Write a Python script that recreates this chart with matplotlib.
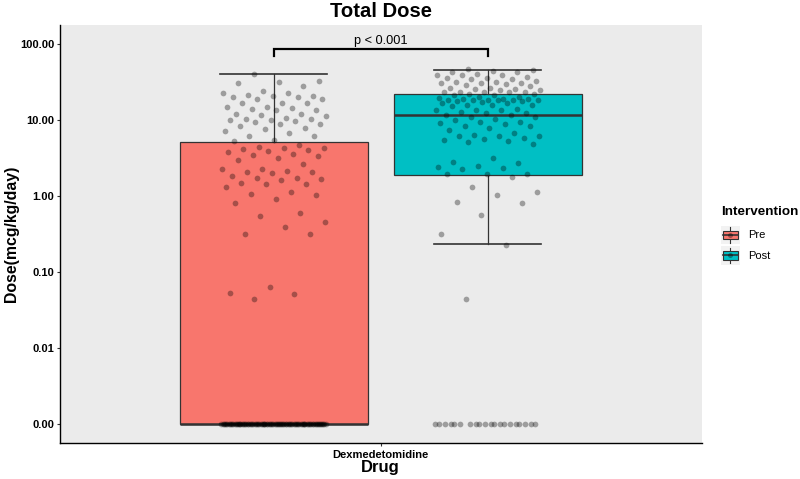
import matplotlib
matplotlib.use("Agg")
import matplotlib.pyplot as plt
from matplotlib.legend_handler import HandlerBase
from matplotlib.patches import Rectangle, Patch
from matplotlib.lines import Line2D
from matplotlib.ticker import FixedLocator, FuncFormatter, NullLocator
import numpy as np

plt.rcParams["font.family"] = ["Liberation Sans", "DejaVu Sans"]

# Data
drug = "Dexmedetomidine"
groups = ["Pre", "Post"]
colors = ["#F8766D", "#00BFC4"]

# box statistics, dose in mcg/kg/day
q1 = [0.0, 1.90]
median = [0.0, 11.7]
q3 = [5.16, 21.9]
whisker_low = [0.0, 0.232]
whisker_high = [40.0, 46.5]

# individual patients (non-zero doses) + number of zero doses
pre_nonzero = [40.3, 32.8, 31.6, 30.6, 28.0, 24.3, 22.8, 22.8, 21.7, 21.0, 20.7, 20.2,
               20.0, 19.2, 19.2, 17.0, 16.7, 16.7, 14.8, 14.8, 14.4, 14.1, 13.8, 13.5,
               12.2, 12.0, 11.8, 11.5, 10.8, 10.4, 10.4, 10.2, 10.0, 9.8, 9.5, 9.0, 8.9,
               8.3, 7.9, 7.7, 7.1, 6.8, 6.2, 6.1, 5.5, 5.3,
               4.75, 4.44, 4.31, 4.27, 4.14, 4.09, 3.89, 3.85, 3.62, 3.45, 3.35, 3.21,
               2.96, 2.68, 2.28, 2.25, 2.12, 2.10, 2.08, 2.00, 1.82, 1.73, 1.73, 1.70,
               1.61, 1.47, 1.44, 1.44, 1.32, 1.13, 1.06, 1.03, 0.92, 0.81, 0.59, 0.55,
               0.46, 0.39, 0.32, 0.32, 0.063, 0.053, 0.052, 0.044]
post_nonzero = [46.9, 45.9, 44.9, 42.8, 42.8, 40.3, 39.7, 39.4, 39.1, 37.4, 36.3, 36.3,
                35.2, 34.9, 32.6, 31.6, 31.6, 31.2, 31.2, 30.9, 29.7, 29.1, 28.0, 26.8,
                26.6, 25.8, 25.5, 25.0, 25.0, 23.7, 23.3, 23.3, 23.3, 23.3,
                22.1, 21.9, 21.7, 21.5, 20.4, 20.4, 19.6, 19.2, 19.0, 19.0, 18.6, 18.6,
                18.5, 18.5, 18.3, 18.3, 18.1, 17.8, 17.2, 16.9, 16.7, 15.9, 15.7, 15.7,
                15.4, 14.1, 13.8, 13.6, 13.5, 12.8, 12.6, 12.4, 11.8, 11.7, 11.0, 10.9,
                10.5, 10.1, 9.5, 9.4, 9.1, 8.8, 8.5, 8.3, 7.9, 7.4, 6.8, 6.4, 6.2, 6.1,
                6.1, 5.8, 5.7, 5.4, 5.3, 5.2, 4.8, 3.2, 2.79, 2.73, 2.49, 2.40, 2.32,
                2.25, 1.97, 1.95, 1.94,
                1.79, 1.31, 1.13, 1.03, 0.83, 0.82, 0.57, 0.32, 0.23, 0.044]
zero_counts = [94, 20]

y_ticks = [0.001, 0.01, 0.1, 1, 10, 100]
zero_floor = 0.001          # zero doses are drawn on the "0.00" line
p_label = "p < 0.001"
bracket_top = 86
bracket_foot = 70


def floor0(v):
    v = np.asarray(v, dtype=float)
    return np.where(v <= 0, zero_floor, v)


fig = plt.figure(figsize=(8, 4.79), dpi=100)
ax = fig.add_axes([59.5 / 800, 36 / 479, 642.5 / 800, 418 / 479], facecolor="#EBEBEB")

positions = [1 - 0.1875, 1 + 0.1875]

stats = []
for i, g in enumerate(groups):
    stats.append(dict(label=g, med=floor0(median[i]), q1=floor0(q1[i]), q3=floor0(q3[i]),
                      whislo=floor0(whisker_low[i]), whishi=floor0(whisker_high[i]), fliers=[]))

bp = ax.bxp(stats, positions=positions, widths=0.329, capwidths=0.1875,
            patch_artist=True, showfliers=False, manage_ticks=False,
            boxprops=dict(edgecolor="#333333", linewidth=0.9),
            medianprops=dict(color="#333333", linewidth=1.8),
            whiskerprops=dict(color="#333333", linewidth=0.9),
            capprops=dict(color="#333333", linewidth=1.2))
for patch, c in zip(bp["boxes"], colors):
    patch.set_facecolor(c)

# jittered points (width jitter only)
all_points = [pre_nonzero + [0] * zero_counts[0], post_nonzero + [0] * zero_counts[1]]
for pos, pts in zip(positions, all_points):
    n = len(pts)
    jit = ((np.arange(n) * 0.6180339887 + 0.31) % 1 - 0.5) * 2 * 0.092
    ax.scatter(pos + jit, floor0(pts), s=17, color="black", alpha=0.33,
               linewidths=0, zorder=4)

# significance bracket
ax.plot([positions[0], positions[0], positions[1], positions[1]],
        [bracket_foot, bracket_top, bracket_top, bracket_foot],
        color="black", linewidth=1.6, solid_joinstyle="miter", zorder=5)
ax.text(np.mean(positions), 101, p_label, ha="center", va="baseline", fontsize=9.2)

# scales
ax.set_yscale("log")
ax.set_ylim(10 ** -3.253, 10 ** 2.254)
ax.set_xlim(1 - 0.563, 1 + 0.563)
ax.yaxis.set_major_locator(FixedLocator(y_ticks))
ax.yaxis.set_major_formatter(FuncFormatter(lambda v, p: f"{v:.2f}"))
ax.yaxis.set_minor_locator(NullLocator())
ax.set_xticks([1])
ax.set_xticklabels([drug], fontweight="bold", fontsize=8)
for lab in ax.get_yticklabels():
    lab.set_fontweight("bold")
ax.tick_params(axis="both", labelsize=8, length=2.4, width=0.8, color="#333333",
               labelcolor="black", pad=1.5)
ax.tick_params(axis="x", pad=2.5)

# spines
ax.spines["top"].set_visible(False)
ax.spines["right"].set_visible(False)
ax.spines["left"].set_linewidth(1.0)
ax.spines["bottom"].set_linewidth(1.0)

# labels
ax.set_title("Total Dose", fontsize=14.6, fontweight="bold", pad=5.5)
ax.set_xlabel("Drug", fontsize=12, fontweight="bold")
ax.xaxis.set_label_coords(0.5, -0.040)
ax.set_ylabel("Dose(mcg/kg/day)", fontsize=11.4, fontweight="bold")
ax.yaxis.set_label_coords(-0.063, 0.5)


# legend with little boxplot keys
class BoxKey(HandlerBase):
    def create_artists(self, legend, orig_handle, xdescent, ydescent, width, height,
                       fontsize, trans):
        x0, y0 = -xdescent, -ydescent
        cx = x0 + width / 2
        bg = Rectangle((x0, y0), width, height, facecolor="#F2F2F2", edgecolor="none",
                       transform=trans)
        whisk = Line2D([cx, cx], [y0 + 1, y0 + height - 1], color="#333333", lw=0.8,
                       transform=trans)
        box = Rectangle((x0 + width * 0.1, y0 + height * 0.27), width * 0.8, height * 0.46,
                        facecolor=orig_handle.get_facecolor(), edgecolor="#333333",
                        lw=0.8, transform=trans)
        med = Line2D([x0 + width * 0.1, x0 + width * 0.9], [y0 + height / 2] * 2,
                     color="#333333", lw=1.2, transform=trans)
        dot = Line2D([cx], [y0 + height / 2], marker="o", markersize=3.6, color="black",
                     alpha=0.35, markeredgewidth=0, transform=trans)
        return [bg, whisk, box, med, dot]


handles = [Patch(facecolor=c, label=g) for g, c in zip(groups, colors)]
leg = fig.legend(handles=handles, handler_map={Patch: BoxKey()}, title="Intervention",
                 loc="upper left", bbox_to_anchor=(721 / 800, 1 - 206 / 479),
                 frameon=False, fontsize=8, handlelength=1.7, handleheight=2.17,
                 labelspacing=0.2, handletextpad=0.7, borderpad=0, borderaxespad=0,
                 alignment="left",
                 title_fontproperties=dict(weight="bold", size=9.7))
leg._legend_box.sep = 5.5   # gap between legend title and keys

fig.savefig("out.png", dpi=100)
